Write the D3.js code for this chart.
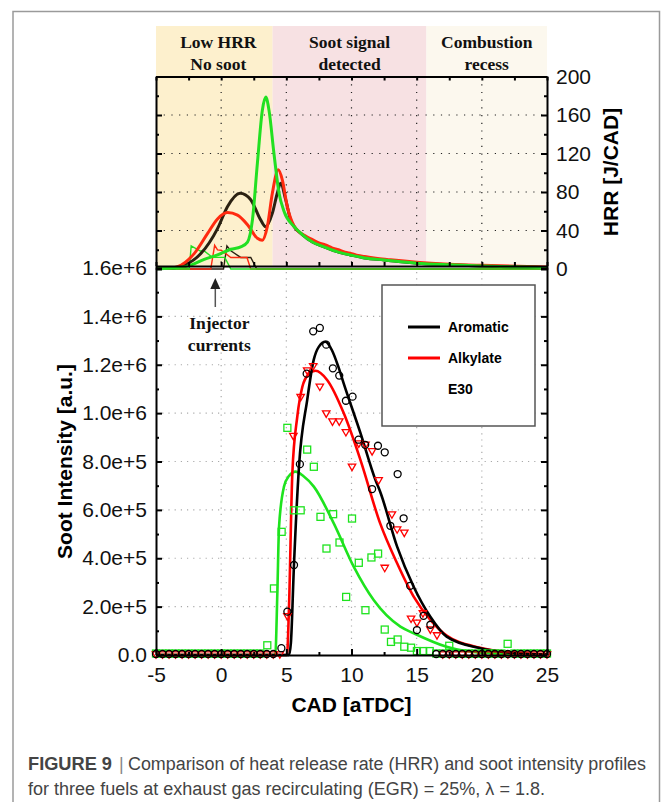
<!DOCTYPE html>
<html lang="en">
<head>
  <meta charset="UTF-8">
  <title>HRR and soot intensity</title>
  <script src="https://d3js.org/d3.v7.min.js"></script>
  <style>
    body { margin: 0; background: white; }
    .sans { font-family: "Liberation Sans", Arial, sans-serif; }
    .serif { font-family: "Liberation Serif", "Times New Roman", serif; font-weight: bold; }
    .fit { fill: none; stroke-width: 2.6px; }
    .hrr { fill: none; stroke-width: 3px; stroke-linejoin: round; }
    .inj { fill: none; stroke-width: 1.4px; }
    .mk { fill: none; stroke-width: 1.3px; }
    .axis path, .axis line { stroke: black; }
    .axis path { stroke-width: 2px; }
    .axis line { stroke-width: 2px; }
  </style>
</head>
<body>
<svg width="665" height="802"></svg>
<script>
  // ---- data ----
  var fuels = ["Aromatic", "Alkylate", "E30"];
  var colors = ["#000000", "#ff0000", "#1ee31e"];
  var hrrColors = ["#2b2112", "#ff2a10", "#22e022"];

  var regionLabels = [["Low HRR", "No soot"], ["Soot signal", "detected"], ["Combustion", "recess"]];
  var regionFrom = [-5, 3.95, 15.75];
  var regionTo = [3.95, 15.75, 25];
  var regionFill = ["#fdf0cd", "#f7e1e3", "#fcf8ee"];

  var sootTicks = [0, 2e5, 4e5, 6e5, 8e5, 1e6, 1.2e6, 1.4e6, 1.6e6];
  var sootMinor = [1e5, 3e5, 5e5, 7e5, 9e5, 1.1e6, 1.3e6, 1.5e6];
  var cadTicks = [-5, 0, 5, 10, 15, 20, 25];
  var cadMinor = [-2.5, 2.5, 7.5, 12.5, 17.5, 22.5];
  var hrrTicks = [0, 40, 80, 120, 160, 200];
  var hrrMinor = [20, 60, 100, 140, 180];

  // HRR [J/CAD] vs CAD
  var hrrTail = [[5.6, 44], [6.2, 36], [7, 28], [7.9, 23], [9, 17.5], [9.9, 14.6], [11, 11.5],
    [12.5, 9.4], [15, 6], [17.5, 4.3], [20, 3.1], [22.5, 2.3], [25, 1.6]];
  var hrrAromatic = [[-5, 0.5], [-4, 0.8], [-2.83, 4], [-1.56, 16], [-0.28, 42], [0.49, 65], [1.45, 78.7],
    [2.27, 72], [3.03, 51], [3.42, 44], [3.93, 58], [4.31, 79], [4.56, 89], [4.95, 72], [5.33, 51]];
  var hrrAlkylate = [[-5, 0.5], [-4, 0.9], [-3.34, 2.4], [-2.07, 16], [-1.04, 37], [-0.28, 52], [0.49, 58.6],
    [1.25, 56], [2.02, 46], [2.78, 32], [3.16, 30], [3.54, 44], [3.93, 79], [4.38, 103], [4.69, 92.6],
    [5.07, 65]];
  var hrrE30 = [[-5, 0.3], [-3.85, 0.7], [-2.32, 4], [-1.3, 10], [-0.28, 14.6], [0.74, 20.5], [1.5, 23],
    [2.02, 28], [2.4, 51], [2.78, 110], [3.16, 165], [3.42, 178.6], [3.67, 165], [4.05, 120],
    [4.44, 79], [4.82, 60]];
  var redRipple = [[6.5, 34], [7, 30.5], [7.5, 27], [8, 25], [8.5, 22], [9, 20], [9.5, 17.5], [10, 16],
    [10.5, 14], [11, 13], [12, 11], [13, 9.5], [15, 7], [17.5, 5], [20, 3.8], [25, 2.2]];

  // injector current traces (scaled onto HRR axis)
  var injAromatic = [[-5, 0], [0.18, 0], [0.44, 24], [0.74, 19], [1.5, 12], [2.27, 12], [2.73, 0], [25, 0]];
  var injAlkylate = [[-5, 0], [-0.8, 0], [-0.5, 24.6], [-0.28, 19.8], [0.0, 19.5], [0.74, 12], [1.98, 12], [2.27, 0], [25, 0]];
  var injE30 = [[-5, 0], [-2.45, 0], [-2.3, 24], [-1.6, 18.7], [-1.3, 18.7], [-0.67, 12.1], [0.28, 12.1], [0.74, 0], [25, 0]];

  // soot intensity fits [CAD, a.u.]
  var fitAromatic = [[-5, 0], [5.2, 0], [5.35, 0.05e6], [5.58, 0.365e6], [5.97, 0.778e6], [6.6, 1.054e6],
    [7.1, 1.22e6], [7.5, 1.275e6], [8.0, 1.295e6], [8.5, 1.26e6], [9.0, 1.19e6], [9.4, 1.123e6],
    [10.69, 0.917e6], [11.84, 0.723e6], [12.2, 0.675e6], [13.5, 0.448e6], [14.77, 0.282e6],
    [16.05, 0.158e6], [17.3, 0.076e6], [19.87, 0.028e6], [22.5, 0.008e6], [25, 0.002e6]];
  var fitAlkylate = [[-5, 0], [5.05, 0], [5.2, 0.19e6], [5.46, 0.751e6], [5.84, 0.985e6], [6.23, 1.109e6],
    [6.7, 1.16e6], [7.24, 1.175e6], [8.13, 1.137e6], [9.41, 0.999e6], [10.69, 0.806e6], [12.2, 0.544e6],
    [13.5, 0.379e6], [14.77, 0.241e6], [16.05, 0.145e6], [17.3, 0.08e6], [19.87, 0.03e6],
    [22.5, 0.009e6], [25, 0.002e6]];
  var fitE30 = [[-5, 0], [4.15, 0], [4.31, 0.255e6], [4.44, 0.53e6], [4.82, 0.696e6], [5.2, 0.74e6],
    [5.71, 0.758e6], [6.3, 0.74e6], [7.11, 0.696e6], [8.64, 0.544e6], [10.17, 0.365e6], [11.7, 0.227e6],
    [13.75, 0.117e6], [14.77, 0.09e6], [17.3, 0.034e6], [19.87, 0.01e6], [25, 0.001e6]];

  // measured soot intensity
  var cadLeft = [-5, -4.5, -4, -3.5, -3, -2.5, -2, -1.5, -1, -0.5, 0, 0.5, 1, 1.5, 2, 2.5, 3, 3.5, 4, 4.5];
  var cadRight = [16.5, 17, 17.5, 18, 18.5, 19, 19.5, 20, 20.5, 21, 21.5, 22, 22.5, 23, 23.5, 24, 24.5, 25];
  var ptsAromatic = [[4.62, 0.024e6], [5.08, 0.175e6], [5.59, 0.368e6], [6.04, 0.785e6], [6.56, 1.159e6],
    [7.06, 1.334e6], [7.57, 1.348e6], [8.06, 1.279e6], [8.57, 1.181e6], [9.06, 1.151e6], [9.57, 1.047e6],
    [10.08, 1.064e6], [10.54, 0.886e6], [11.05, 0.865e6], [11.58, 0.682e6], [12.03, 0.861e6],
    [12.55, 0.834e6], [12.98, 0.53e6], [13.54, 0.744e6], [14.0, 0.561e6], [14.5, 0.282e6],
    [15.02, 0.099e6], [15.53, 0.158e6], [16.05, 0.121e6]];
  var ptsAlkylate = [[5.08, 0.158e6], [5.54, 0.903e6], [6.1, 1.064e6], [6.6, 1.174e6], [7.06, 1.192e6],
    [7.57, 1.107e6], [8.06, 0.996e6], [8.54, 0.963e6], [9.06, 0.963e6], [9.57, 0.919e6], [10.04, 0.776e6],
    [10.56, 0.872e6], [11.07, 0.867e6], [11.58, 0.84e6], [12.08, 0.72e6], [12.55, 0.358e6],
    [13.1, 0.579e6], [13.5, 0.517e6], [14.05, 0.503e6], [14.57, 0.148e6], [15.02, 0.131e6],
    [15.48, 0.17e6], [16.05, 0.103e6], [16.56, 0.079e6]];
  var ptsE30 = [[3.54, 0.034e6], [4.05, 0.269e6], [4.64, 0.503e6], [5.08, 0.933e6], [5.58, 0.592e6],
    [6.1, 0.592e6], [6.6, 0.843e6], [7.11, 0.772e6], [7.62, 0.565e6], [8.08, 0.434e6], [8.59, 0.576e6],
    [9.08, 0.459e6], [9.59, 0.234e6], [10.04, 0.558e6], [10.56, 0.375e6], [11.07, 0.179e6],
    [11.53, 0.397e6], [12.04, 0.413e6], [12.55, 0.099e6], [13.03, 0.048e6], [13.54, 0.058e6],
    [14.05, 0.028e6], [14.57, 0.024e6], [15.02, 0.01e6], [15.5, 0.01e6], [16.0, 0.01e6],
    [17.5, 0.032e6], [21.98, 0.04e6]];

  var svg = d3.select("svg");

  // figure frame
  svg.append("path").attr("d", "M13,802V11.5H659.5V802")
    .attr("fill", "none").attr("stroke", "#9a9a9a").attr("stroke-width", 1.5);

  var x = d3.scaleLinear().domain([-5, 25]).range([156, 547]);
  var yS = d3.scaleLinear().domain([0, 1.6e6]).range([655, 268]);
  var yH = d3.scaleLinear().domain([0, 200]).range([269, 76.5]);
  var hrrBottom = 266;

  // ---- upper panel: HRR ----
  var regions = fuels.map(function (f, i) {
    return { from: regionFrom[i], to: regionTo[i], fill: regionFill[i], label: regionLabels[i] };
  });
  svg.selectAll(".region").data(regions).enter().append("rect")
    .attr("x", function (d) { return x(d.from); })
    .attr("width", function (d) { return x(d.to) - x(d.from); })
    .attr("y", 26).attr("height", hrrBottom - 26)
    .attr("fill", function (d) { return d.fill; });

  regions.forEach(function (d) {
    var t = svg.append("text").attr("class", "serif").attr("font-size", 17.5)
      .attr("text-anchor", "middle").attr("fill", "#111")
      .attr("x", (x(d.from) + x(d.to)) / 2 + (d.from === -5 ? 4 : 0));
    t.append("tspan").attr("x", t.attr("x")).attr("y", 48).text(d.label[0]);
    t.append("tspan").attr("x", t.attr("x")).attr("y", 70).text(d.label[1]);
  });

  var up = svg.append("g");
  // dotted grid
  up.selectAll(".vg").data([0, 5, 10, 15, 20]).enter().append("line")
    .attr("x1", x).attr("x2", x).attr("y1", yH(200)).attr("y2", hrrBottom)
    .attr("stroke", "#222").attr("stroke-width", 1.2).attr("stroke-dasharray", "1.2,6.5");
  up.selectAll(".hg").data([40, 80, 120, 160]).enter().append("line")
    .attr("x1", x(-5)).attr("x2", x(25)).attr("y1", yH).attr("y2", yH)
    .attr("stroke", "#222").attr("stroke-width", 1.2).attr("stroke-dasharray", "1.2,6.5");

  var lineH = d3.line().x(function (d) { return x(d[0]); }).y(function (d) { return yH(d[1]); });
  var smoothH = d3.line().curve(d3.curveMonotoneX)
    .x(function (d) { return x(d[0]); }).y(function (d) { return yH(d[1]); });

  [injAromatic, injAlkylate, injE30].forEach(function (d, i) {
    up.append("path").attr("class", "inj").attr("d", lineH(d)).attr("stroke", hrrColors[i]);
  });
  up.append("path").attr("class", "hrr").attr("d", smoothH(hrrAromatic.concat(hrrTail)))
    .attr("stroke", hrrColors[0]);
  up.append("path").attr("class", "hrr").attr("d", smoothH(hrrAlkylate.concat([[5.58, 45]], redRipple)))
    .attr("stroke", hrrColors[1]);
  up.append("path").attr("class", "hrr").attr("d", smoothH(hrrE30.concat(hrrTail)))
    .attr("stroke", hrrColors[2]);

  function styleAxis(g, size) {
    g.attr("class", "axis sans").attr("font-family", null).attr("font-size", size);
    g.selectAll("text").attr("fill", "#111");
    return g;
  }

  // upper frame and ticks
  styleAxis(up.append("g").attr("transform", "translate(0," + yH(200) + ")")
    .call(d3.axisTop(x).tickValues(cadTicks.concat(cadMinor)).tickSizeInner(-4).tickSizeOuter(0).tickFormat("")), 10);
  styleAxis(up.append("g").attr("transform", "translate(0," + hrrBottom + ")")
    .call(d3.axisBottom(x).tickValues(cadTicks.concat(cadMinor)).tickSizeInner(-4).tickSizeOuter(0).tickFormat("")), 10);
  styleAxis(up.append("g").attr("transform", "translate(" + x(-5) + ",0)")
    .call(d3.axisLeft(yH).tickValues(hrrTicks).tickSizeInner(-6).tickSizeOuter(0).tickFormat("")), 10);
  styleAxis(up.append("g").attr("transform", "translate(" + x(-5) + ",0)")
    .call(d3.axisLeft(yH).tickValues(hrrMinor).tickSizeInner(-3).tickSizeOuter(0).tickFormat("")), 10)
    .select(".domain").remove();
  styleAxis(up.append("g").attr("transform", "translate(" + x(25) + ",0)")
    .call(d3.axisRight(yH).tickValues(hrrTicks).tickSizeInner(-6).tickSizeOuter(0).tickPadding(9)), 21);
  styleAxis(up.append("g").attr("transform", "translate(" + x(25) + ",0)")
    .call(d3.axisRight(yH).tickValues(hrrMinor).tickSizeInner(-3).tickSizeOuter(0).tickFormat("")), 10)
    .select(".domain").remove();

  svg.append("text").attr("class", "sans").attr("font-weight", "bold").attr("font-size", 21)
    .attr("text-anchor", "middle").attr("transform", "translate(618,172) rotate(-90)")
    .text("HRR [J/CAD]");

  // ---- lower panel: soot intensity ----
  var low = svg.append("g");
  low.selectAll(".vg").data([0, 5, 10, 15, 20]).enter().append("line")
    .attr("x1", x).attr("x2", x).attr("y1", yS(1.6e6) + 4).attr("y2", yS(0))
    .attr("stroke", "#aaa").attr("stroke-width", 1.2).attr("stroke-dasharray", "1.2,5");
  low.selectAll(".hg").data(sootTicks.slice(1, 8)).enter().append("line")
    .attr("x1", x(-5)).attr("x2", x(25)).attr("y1", yS).attr("y2", yS)
    .attr("stroke", "#aaa").attr("stroke-width", 1.2).attr("stroke-dasharray", "1.2,5");

  var smoothS = d3.line().curve(d3.curveMonotoneX)
    .x(function (d) { return x(d[0]); }).y(function (d) { return yS(d[1]); });
  [fitE30, fitAlkylate, fitAromatic].forEach(function (d, i) {
    low.append("path").attr("class", "fit").attr("d", smoothS(d)).attr("stroke", colors[2 - i]);
  });

  function withZeros(pts, left, right) {
    return cadLeft.filter(function (c) { return c <= left; }).map(function (c) { return [c, 0]; })
      .concat(pts)
      .concat(cadRight.filter(function (c) { return c >= right; }).map(function (c) { return [c, 0]; }));
  }
  var e30All = withZeros(ptsE30, 3, 16.5).filter(function (d) { return !(d[1] === 0 && (d[0] === 17.5 || d[0] === 22)); });

  low.selectAll(".sq").data(e30All).enter().append("rect").attr("class", "mk")
    .attr("x", function (d) { return x(d[0]) - 3.5; }).attr("y", function (d) { return yS(d[1]) - 5; })
    .attr("width", 7).attr("height", 7).attr("stroke", colors[2]);
  var tri = d3.symbol().type(d3.symbolTriangle).size(24);
  low.selectAll(".tri").data(withZeros(ptsAlkylate, 4.5, 17)).enter().append("path").attr("class", "mk")
    .attr("d", tri)
    .attr("transform", function (d) { return "translate(" + x(d[0]) + "," + (yS(d[1]) - 1) + ") rotate(180)"; })
    .attr("stroke", colors[1]);
  low.selectAll(".cir").data(withZeros(ptsAromatic, 4, 16.5)).enter().append("circle").attr("class", "mk")
    .attr("cx", function (d) { return x(d[0]); }).attr("cy", function (d) { return yS(d[1]) - 1; })
    .attr("r", 3.5).attr("stroke", colors[0]);

  var sootFmt = function (d) { return d === 0 ? "0.0" : d3.format(".1e")(d); };
  styleAxis(low.append("g").attr("transform", "translate(" + x(-5) + ",0)")
    .call(d3.axisLeft(yS).tickValues(sootTicks).tickSizeInner(-6).tickSizeOuter(0).tickPadding(9).tickFormat(sootFmt)), 21);
  styleAxis(low.append("g").attr("transform", "translate(" + x(-5) + ",0)")
    .call(d3.axisLeft(yS).tickValues(sootMinor).tickSizeInner(-3).tickSizeOuter(0).tickFormat("")), 10)
    .select(".domain").remove();
  styleAxis(low.append("g").attr("transform", "translate(" + x(25) + ",0)")
    .call(d3.axisRight(yS).tickValues(sootTicks).tickSizeInner(-6).tickSizeOuter(0).tickFormat("")), 10);
  styleAxis(low.append("g").attr("transform", "translate(" + x(25) + ",0)")
    .call(d3.axisRight(yS).tickValues(sootMinor).tickSizeInner(-3).tickSizeOuter(0).tickFormat("")), 10)
    .select(".domain").remove();
  styleAxis(low.append("g").attr("transform", "translate(0," + yS(0) + ")")
    .call(d3.axisBottom(x).tickValues(cadTicks).tickSizeInner(-6).tickSizeOuter(0).tickPadding(12)
      .tickFormat(function (d) { return String(d); })), 21);
  styleAxis(low.append("g").attr("transform", "translate(0," + yS(0) + ")")
    .call(d3.axisBottom(x).tickValues(cadMinor).tickSizeInner(-3).tickSizeOuter(0).tickFormat("")), 10)
    .select(".domain").remove();

  svg.append("text").attr("class", "sans").attr("font-weight", "bold").attr("font-size", 21)
    .attr("text-anchor", "middle").attr("x", (x(-5) + x(25)) / 2).attr("y", 712)
    .text("CAD [aTDC]");
  svg.append("text").attr("class", "sans").attr("font-weight", "bold").attr("font-size", 21)
    .attr("text-anchor", "middle").attr("transform", "translate(72," + yS(0.8e6) + ") rotate(-90)")
    .text("Soot Intensity [a.u.]");

  // injector annotation
  var ax = x(-0.45);
  svg.append("line").attr("x1", ax).attr("x2", ax).attr("y1", 307).attr("y2", 286)
    .attr("stroke", "#555").attr("stroke-width", 1.5);
  svg.append("path").attr("d", "M" + ax + ",278L" + (ax - 5) + ",289L" + (ax + 5) + ",289Z").attr("fill", "#222");
  var inj = svg.append("text").attr("class", "serif").attr("font-size", 17.5).attr("text-anchor", "middle")
    .attr("fill", "#111");
  inj.append("tspan").attr("x", ax + 4).attr("y", 329).text("Injector");
  inj.append("tspan").attr("x", ax + 4).attr("y", 351).text("currents");

  // legend
  var lg = svg.append("g").attr("transform", "translate(382,285)");
  lg.append("rect").attr("width", 153).attr("height", 141).attr("fill", "white")
    .attr("stroke", "#555").attr("stroke-width", 1.5);
  fuels.forEach(function (f, i) {
    var yy = 42 + i * 31;
    if (i < 2) {
      lg.append("line").attr("x1", 26).attr("x2", 58).attr("y1", yy).attr("y2", yy)
        .attr("stroke", colors[i]).attr("stroke-width", 3);
    }
    lg.append("text").attr("class", "sans").attr("font-weight", "bold").attr("font-size", 14)
      .attr("x", 66).attr("y", yy + 5).text(f);
  });

  // caption
  var cap = svg.append("g").attr("class", "sans").attr("fill", "#444").attr("font-size", 18);
  cap.append("text").attr("x", 28).attr("y", 770).attr("font-weight", "bold")
    .attr("textLength", 84).attr("lengthAdjust", "spacingAndGlyphs").text("FIGURE 9");
  cap.append("text").attr("x", 119).attr("y", 770).attr("fill", "#888").text("|");
  cap.append("text").attr("x", 128).attr("y", 770)
    .attr("textLength", 518).attr("lengthAdjust", "spacingAndGlyphs")
    .text("Comparison of heat release rate (HRR) and soot intensity profiles");
  cap.append("text").attr("x", 28).attr("y", 795)
    .attr("textLength", 517).attr("lengthAdjust", "spacingAndGlyphs")
    .text("for three fuels at exhaust gas recirculating (EGR) = 25%, \u03bb = 1.8.");
</script>
</body>
</html>
